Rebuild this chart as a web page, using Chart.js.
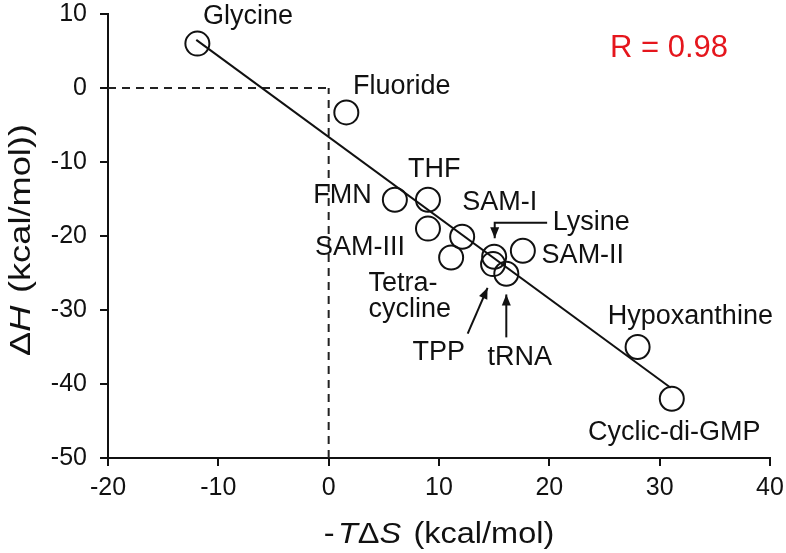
<!DOCTYPE html>
<html>
<head>
<meta charset="utf-8">
<title>Enthalpy-entropy compensation</title>
<script src="https://cdn.jsdelivr.net/npm/chart.js@4/dist/chart.umd.min.js"></script>
<style>
  html, body { margin: 0; padding: 0; background: #fff; }
  #wrap { width: 786px; height: 553px; }
</style>
</head>
<body>
<div id="wrap"><canvas id="chart" width="786" height="553"></canvas></div>
<script>
// riboswitch ligands, -TΔS vs ΔH (kcal/mol)
const ligands = ['Glycine', 'Fluoride', 'FMN', 'THF', 'SAM-III', 'SAM-I', 'Tetracycline',
                 'Lysine', 'TPP', 'tRNA', 'SAM-II', 'Hypoxanthine', 'Cyclic-di-GMP'];
const minusTdS = [-11.9, 1.6, 6.0, 9.0, 9.0, 12.1, 11.1, 15.0, 14.9, 16.1, 17.6, 28.0, 31.1];
const deltaH   = [6.0, -3.3, -15.1, -15.1, -19.0, -20.1, -22.9, -22.8, -23.8, -25.1, -22.0, -35.0, -42.0];

// linear fit, end points
const fitX = [-12, 31];
const fitY = [6.5, -40.5];

const xTicks = [-20, -10, 0, 10, 20, 30, 40];
const yTicks = [-50, -40, -30, -20, -10, 0, 10];
const rText = 'R = 0.98';

// where each label sits (data units, left edge / vertical middle)
const labelSpots = [
  ['Glycine', -11.4, 9.7],
  ['Fluoride', 2.2, 0.15],
  ['FMN', -1.4, -14.5],
  ['THF', 7.2, -11.0],
  ['SAM-I', 12.1, -15.5],
  ['Lysine', 20.3, -18.2],
  ['SAM-III', -1.25, -21.6],
  ['SAM-II', 19.3, -22.6],
  ['Tetra-', 3.6, -26.4],
  ['cycline', 3.6, -30.0],
  ['TPP', 7.6, -35.7],
  ['tRNA', 14.4, -36.4],
  ['Hypoxanthine', 25.3, -30.9],
  ['Cyclic-di-GMP', 23.5, -46.5]
];
// arrows: list of points, last one is the tip
const arrows = [
  [[19.8, -18.2], [15.05, -18.2], [15.05, -20.3]],
  [[12.6, -33.2], [14.4, -27.0]],
  [[16.1, -33.7], [16.1, -27.9]]
];

const FONT = '"Liberation Sans", Arial, Helvetica, sans-serif';

function drawArrow(ctx, pts) {
  ctx.beginPath();
  ctx.moveTo(pts[0][0], pts[0][1]);
  for (let i = 1; i < pts.length; i++) ctx.lineTo(pts[i][0], pts[i][1]);
  ctx.stroke();
  const [x1, y1] = pts[pts.length - 2];
  const [x2, y2] = pts[pts.length - 1];
  const a = Math.atan2(y2 - y1, x2 - x1);
  const len = 11, half = 4.5;
  ctx.beginPath();
  ctx.moveTo(x2, y2);
  ctx.lineTo(x2 - len * Math.cos(a) + half * Math.sin(a), y2 - len * Math.sin(a) - half * Math.cos(a));
  ctx.lineTo(x2 - len * Math.cos(a) - half * Math.sin(a), y2 - len * Math.sin(a) + half * Math.cos(a));
  ctx.closePath();
  ctx.fill();
}

// draws text made of plain/italic pieces, centred on x
function drawRich(ctx, parts, size) {
  let total = 0;
  parts.forEach(p => {
    ctx.font = (p[1] ? 'italic ' : '') + size + 'px ' + FONT;
    total += ctx.measureText(p[0]).width + (p[2] || 0);
  });
  let x = -total / 2;
  parts.forEach(p => {
    ctx.font = (p[1] ? 'italic ' : '') + size + 'px ' + FONT;
    ctx.fillText(p[0], x, 0);
    x += ctx.measureText(p[0]).width + (p[2] || 0);
  });
}

const extras = {
  id: 'extras',
  afterDatasetsDraw(chart) {
    const ctx = chart.ctx;
    const xs = chart.scales.x, ys = chart.scales.y;
    const area = chart.chartArea;
    ctx.save();
    ctx.fillStyle = '#111';
    ctx.strokeStyle = '#111';
    ctx.lineWidth = 2;
    ctx.textBaseline = 'middle';
    ctx.textAlign = 'left';
    ctx.font = '27px ' + FONT;
    labelSpots.forEach(([t, x, y]) => {
      ctx.fillText(t, xs.getPixelForValue(x), ys.getPixelForValue(y));
    });
    arrows.forEach(a => drawArrow(ctx, a.map(([x, y]) => [xs.getPixelForValue(x), ys.getPixelForValue(y)])));

    ctx.fillStyle = '#e5161d';
    ctx.font = '31px ' + FONT;
    ctx.fillText(rText, xs.getPixelForValue(25.5), ys.getPixelForValue(5.4));

    // axis titles
    ctx.fillStyle = '#111';
    ctx.textBaseline = 'alphabetic';
    ctx.save();
    ctx.translate((area.left + area.right) / 2, 543);
    ctx.scale(1.12, 1);
    drawRich(ctx, [['-', false, 3], ['T', true, 0], ['\u0394', false, 0], ['S', true, 3], [' (kcal/mol)', false, 0]], 29);
    ctx.restore();

    ctx.save();
    ctx.translate(30, 240);
    ctx.rotate(-Math.PI / 2);
    ctx.scale(1.25, 1);
    drawRich(ctx, [['\u0394', false, 0], ['H', true, 2], [' (kcal/mol))', false, 0]], 29);
    ctx.restore();
    ctx.restore();
  }
};

const ctx = document.getElementById('chart').getContext('2d');
new Chart(ctx, {
  type: 'scatter',
  data: {
    datasets: [
      {
        label: 'ligands',
        data: minusTdS.map((x, i) => ({ x: x, y: deltaH[i] })),
        pointStyle: 'circle',
        pointRadius: 12,
        pointBorderWidth: 2,
        pointBorderColor: '#111',
        pointBackgroundColor: 'rgba(255,255,255,0)',
        showLine: false
      },
      {
        label: 'fit',
        data: fitX.map((x, i) => ({ x: x, y: fitY[i] })),
        showLine: true,
        borderColor: '#111',
        borderWidth: 2,
        pointRadius: 0
      },
      {
        label: 'zero x',
        data: [{ x: 0, y: yTicks[0] }, { x: 0, y: 0 }],
        showLine: true,
        borderColor: '#222',
        borderWidth: 2,
        borderDash: [8, 6],
        pointRadius: 0
      },
      {
        label: 'zero y',
        data: [{ x: xTicks[0], y: 0 }, { x: 0, y: 0 }],
        showLine: true,
        borderColor: '#222',
        borderWidth: 2,
        borderDash: [8, 6],
        pointRadius: 0
      }
    ]
  },
  options: {
    responsive: false,
    animation: false,
    layout: { padding: { left: 0, right: 16, top: 13, bottom: 0 } },
    plugins: { legend: { display: false }, tooltip: { enabled: false } },
    scales: {
      x: {
        type: 'linear',
        min: xTicks[0],
        max: xTicks[xTicks.length - 1],
        afterFit: s => { s.height = 95; s.paddingLeft = 0; s.paddingRight = 0; },
        afterBuildTicks: s => { s.ticks = xTicks.map(v => ({ value: v })); },
        ticks: { color: '#111', font: { size: 25, family: FONT }, padding: 7, maxRotation: 0 },
        grid: { drawOnChartArea: false, drawTicks: true, tickLength: 8, color: '#111', lineWidth: 2 },
        border: { display: true, color: '#111', width: 2 }
      },
      y: {
        type: 'linear',
        min: yTicks[0],
        max: yTicks[yTicks.length - 1],
        afterFit: s => { s.width = 108; s.paddingTop = 0; s.paddingBottom = 0; },
        afterBuildTicks: s => { s.ticks = yTicks.map(v => ({ value: v })); },
        ticks: { color: '#111', font: { size: 25, family: FONT }, padding: 13 },
        grid: { drawOnChartArea: false, drawTicks: true, tickLength: 8, color: '#111', lineWidth: 2 },
        border: { display: true, color: '#111', width: 2 }
      }
    }
  },
  plugins: [extras]
});
</script>
</body>
</html>
